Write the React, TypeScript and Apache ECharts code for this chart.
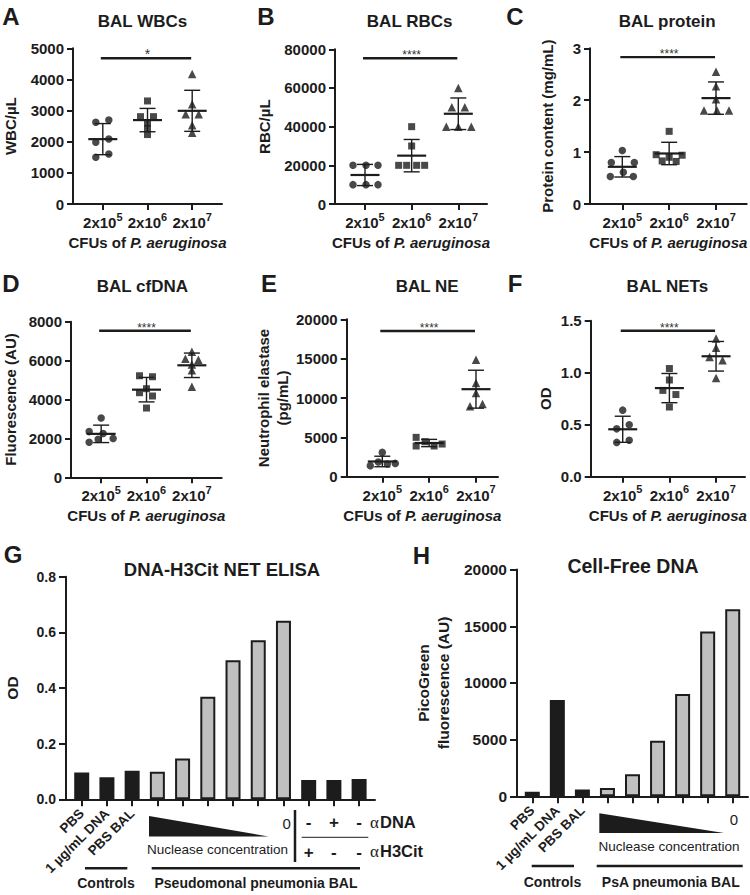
import React, { useEffect, useRef } from 'react';
import * as echarts from 'echarts';

// ---------------- data ----------------
const CFU_LABELS = ['2x10^5', '2x10^6', '2x10^7'];
const GROUP_SYMBOLS = ['circle', 'rect', 'triangle'];

const WBC_LOW = [2624, 2698, 1982, 2088, 1500, 1606];
const WBC_MID = [3309, 2805, 2805, 2600, 2420, 2230];
const WBC_HIGH = [4175, 3200, 2880, 2880, 2530, 2290];

const RBC_LOW = [20000, 20000, 20000, 10000, 10000, 10000];
const RBC_MID = [40000, 30000, 20000, 20000, 20000, 20000];
const RBC_HIGH = [60000, 50000, 50000, 40000, 40000, 40000];

const PROT_LOW = [1.03, 0.8, 0.8, 0.61, 0.53, 0.53];
const PROT_MID = [1.4, 0.95, 0.94, 0.9, 0.83, 0.82];
const PROT_HIGH = [2.55, 2.27, 2.02, 1.8, 1.8, 1.8];

const CFDNA_LOW = [3050, 2350, 2250, 2000, 1950, 1800];
const CFDNA_MID = [5220, 5170, 4555, 4350, 4180, 3560];
const CFDNA_HIGH = [6450, 6100, 6050, 5800, 5500, 4650];

const NE_LOW = [3090, 1400, 1870, 1615, 1690];
const NE_MID = [5000, 4450, 3900, 3900, 4150];
const NE_HIGH = [14870, 11910, 10640, 8940, 9240];

const NET_LOW = [0.64, 0.5, 0.46, 0.33, 0.35];
const NET_MID = [1.04, 0.93, 0.83, 0.79, 0.67];
const NET_HIGH = [1.33, 1.24, 1.15, 1.12, 0.95];

// horizontal spread of overlapping dots (px), as in the scatter-dot plot
const WBC_SPREAD = [[-7, 6, -7, 6, -7, 6], [0, -7, 6, 0, 0, 0], [0, 0, -6.5, 6.5, 0, 0]];
const RBC_SPREAD = [[-12, 1, 13, -12, 1, 13], [0, 0, -13, -5, 5, 13], [0, -6.5, 6.5, -12, 0, 13]];
const PROT_SPREAD = [[0, -11, 12, 1, -12, 11], [0, -13, 13, 0, -7, 7], [0, 0, 0, -12, 1, 13]];
const CFDNA_SPREAD = [[0, -12, 2, 12, -3, -12], [-7, 6, 0, -7, 6, 0], [0, -6.5, 6.5, 0, 0, 0]];
const NE_SPREAD = [[0, -12, -4, 5, 13], [-13, -4, -13, 5, 13], [0, 0, 0, -6, 6.5]];
const NET_SPREAD = [[0, 6.5, -6, -6, 6.5], [0, 0, -6.5, 6.5, 0], [0, 0, -6.5, 6.5, 0]];

const PANEL_TITLES = ['BAL WBCs', 'BAL RBCs', 'BAL protein', 'BAL cfDNA', 'BAL NE', 'BAL NETs'];
const PANEL_LETTERS = ['A', 'B', 'C', 'D', 'E', 'F'];
const PANEL_YNAMES = ['WBC/µL', 'RBC/µL', 'Protein content (mg/mL)', 'Fluorescence (AU)', 'Neutrophil elastase\n(pg/mL)', 'OD'];
const PANEL_YMAX = [5000, 80000, 3, 8000, 20000, 1.5];
const PANEL_YSTEP = [1000, 20000, 1, 2000, 5000, 0.5];
const PANEL_YDECIMALS = [0, 0, 0, 0, 0, 1];
const PANEL_SIG_Y = [4680, 75340, 2.83, 7534, 18514, 1.404];
const PANEL_SIG_TEXT = ['*', '****', '****', '****', '****', '****'];
const PANEL_VALUES = [
  [WBC_LOW, WBC_MID, WBC_HIGH],
  [RBC_LOW, RBC_MID, RBC_HIGH],
  [PROT_LOW, PROT_MID, PROT_HIGH],
  [CFDNA_LOW, CFDNA_MID, CFDNA_HIGH],
  [NE_LOW, NE_MID, NE_HIGH],
  [NET_LOW, NET_MID, NET_HIGH],
];
const PANEL_SPREAD = [WBC_SPREAD, RBC_SPREAD, PROT_SPREAD, CFDNA_SPREAD, NE_SPREAD, NET_SPREAD];

// G: DNA-H3Cit NET ELISA
const G_LABELS = ['PBS', '1 µg/mL DNA', 'PBS BAL'];
const G_OD = [0.096, 0.079, 0.103, 0.099, 0.147, 0.369, 0.5, 0.572, 0.642, 0.069, 0.069, 0.073];
const G_KIND = ['ctrl', 'ctrl', 'ctrl', 'bal', 'bal', 'bal', 'bal', 'bal', 'bal', 'ab', 'ab', 'ab'];
const ANTI_DNA = ['-', '+', '-'];
const ANTI_H3CIT = ['+', '-', '-'];
const G_YTICKS = [0, 0.2, 0.4, 0.6, 0.8];

// H: Cell-Free DNA
const H_LABELS = ['PBS', '1 µg/mL DNA', 'PBS BAL'];
const H_FLUOR = [410, 8500, 590, 740, 1950, 4890, 9020, 14530, 16500];
const H_KIND = ['ctrl', 'ctrl', 'ctrl', 'bal', 'bal', 'bal', 'bal', 'bal', 'bal'];
const H_YTICKS = [0, 5000, 10000, 15000, 20000];

// ---------------- layout / style ----------------
const FONT = '"Liberation Sans", Arial, Helvetica, sans-serif';
const SERIF = '"Liberation Serif", "DejaVu Serif", serif';
const INK = '#1c1c1c';
const GREY = '#c0c0c0';

const SCATTER_LAYOUT = [
  { left: 67, top: 48.3, width: 155, height: 155.7, xmin: -0.667, xmax: 2.667, nameGap: 53, titleY: 21, letterX: 11, letterY: 16 },
  { left: 335, top: 49.3, width: 152, height: 154.7, xmin: -0.643, xmax: 2.615, nameGap: 61, titleY: 21, letterX: 266, letterY: 16 },
  { left: 590, top: 48.3, width: 156.7, height: 155.7, xmin: -0.69, xmax: 2.655, nameGap: 33, titleY: 21, letterX: 515, letterY: 16 },
  { left: 66.7, top: 321.7, width: 155, height: 155.6, xmin: -0.665, xmax: 2.658, nameGap: 51, titleY: 286, letterX: 11, letterY: 283 },
  { left: 346.7, top: 319.3, width: 151.3, height: 157.4, xmin: -0.76, xmax: 2.47, nameGap: 53, titleY: 286, letterX: 269, letterY: 283 },
  { left: 590.7, top: 320.7, width: 154.3, height: 156, xmin: -0.686, xmax: 2.62, nameGap: 36, titleY: 286, letterX: 515, letterY: 283 },
];
const G_LAYOUT = { left: 66, top: 576.7, width: 309, height: 222.6, xmin: -0.623, xmax: 11.63 };
const H_LAYOUT = { left: 517, top: 569.6, width: 231, height: 226.7, xmin: -0.61, xmax: 8.61 };

const mean = (a: number[]) => a.reduce((s, v) => s + v, 0) / a.length;
const sd = (a: number[]) => {
  const m = mean(a);
  return Math.sqrt(a.reduce((s, v) => s + (v - m) * (v - m), 0) / (a.length - 1));
};

const axisLineStyle = { color: INK, width: 2 };
const boldText = { fontFamily: FONT, fontWeight: 'bold' as const, color: INK };

function cfuLabel(v: number) {
  const [base, exp] = CFU_LABELS[Math.round(v)].split('^');
  return `{b|${base}}{s|${exp}}`;
}

function xPos(L: any, i: number) {
  return L.left + ((i - L.xmin) * L.width) / (L.xmax - L.xmin);
}

function bf(size: number) {
  return `bold ${size}px ${FONT}`;
}

function buildOption() {
  const grid: any[] = [];
  const xAxis: any[] = [];
  const yAxis: any[] = [];
  const series: any[] = [];
  const graphic: any[] = [];

  const txt = (text: string, x: number, y: number, font: string, align = 'center', fill = INK) => ({
    type: 'text', x, y, silent: true, z: 10,
    style: { text, font, fill, textAlign: align, textVerticalAlign: 'middle' },
  });
  const ln = (x1: number, y1: number, x2: number, y2: number, w: number) => ({
    type: 'line', silent: true, z: 10, shape: { x1, y1, x2, y2 }, style: { stroke: INK, lineWidth: w },
  });

  // ---------- six scatter-dot panels ----------
  PANEL_VALUES.forEach((sets, p) => {
    const L = SCATTER_LAYOUT[p];
    grid.push({ left: L.left, top: L.top, width: L.width, height: L.height, containLabel: false });
    xAxis.push({
      type: 'value', gridIndex: p, min: L.xmin, max: L.xmax,
      axisLine: { show: true, onZero: false, lineStyle: axisLineStyle },
      axisTick: { show: true, customValues: [0, 1, 2], length: 6, lineStyle: axisLineStyle },
      axisLabel: {
        show: true, customValues: [0, 1, 2], margin: 7, formatter: (v: number) => cfuLabel(v),
        rich: {
          b: { ...boldText, fontSize: 15, lineHeight: 19, verticalAlign: 'bottom' },
          s: { ...boldText, fontSize: 11, lineHeight: 9, verticalAlign: 'top' },
        },
      },
      splitLine: { show: false },
      name: 'CFUs of {i|P. aeruginosa}', nameLocation: 'middle', nameGap: 31,
      nameTextStyle: { ...boldText, fontSize: 15, rich: { i: { ...boldText, fontSize: 15, fontStyle: 'italic' } } },
    });
    yAxis.push({
      type: 'value', gridIndex: p, min: 0, max: PANEL_YMAX[p], interval: PANEL_YSTEP[p],
      axisLine: { show: true, onZero: false, lineStyle: axisLineStyle },
      axisTick: { show: true, length: 6, lineStyle: axisLineStyle },
      axisLabel: { ...boldText, fontSize: 15, margin: 9, formatter: (v: number) => v.toFixed(PANEL_YDECIMALS[p]) },
      splitLine: { show: false },
      name: PANEL_YNAMES[p], nameLocation: 'middle', nameGap: L.nameGap,
      nameTextStyle: { ...boldText, fontSize: 15, lineHeight: 19 },
    });

    sets.forEach((vals, g) => {
      series.push({
        type: 'scatter', xAxisIndex: p, yAxisIndex: p, symbol: GROUP_SYMBOLS[g],
        symbolSize: g === 2 ? 8.5 : g === 1 ? 7 : 7.5, itemStyle: { color: INK }, z: 3, silent: true,
        data: vals.map((v, k) => ({ value: [g, v], symbolOffset: [PANEL_SPREAD[p][g][k], 0] })),
      });
    });

    // mean +/- SD
    series.push({
      type: 'custom', xAxisIndex: p, yAxisIndex: p, z: 5, silent: true,
      dimensions: ['x', 'mean', 'sd'], encode: { x: 0, y: 1 },
      data: sets.map((vals, g) => [g, mean(vals), sd(vals)]),
      renderItem: (_params: any, api: any) => {
        const x = api.value(0), m = api.value(1), s = api.value(2);
        const c = api.coord([x, m]);
        const hi = api.coord([x, m + s]);
        const lo = api.coord([x, m - s]);
        const st = { stroke: INK, lineWidth: 1.4 };
        return {
          type: 'group',
          children: [
            { type: 'line', shape: { x1: hi[0], y1: hi[1], x2: lo[0], y2: lo[1] }, style: st },
            { type: 'line', shape: { x1: hi[0] - 8, y1: hi[1], x2: hi[0] + 8, y2: hi[1] }, style: st },
            { type: 'line', shape: { x1: lo[0] - 8, y1: lo[1], x2: lo[0] + 8, y2: lo[1] }, style: st },
            { type: 'line', shape: { x1: c[0] - 14.5, y1: c[1], x2: c[0] + 14.5, y2: c[1] }, style: { stroke: INK, lineWidth: 2.2 } },
          ],
        };
      },
    });

    // significance bar
    const stars = PANEL_SIG_TEXT[p];
    series.push({
      type: 'custom', xAxisIndex: p, yAxisIndex: p, z: 5, silent: true,
      dimensions: ['from', 'to', 'y'], encode: { x: [0, 1], y: 2 },
      data: [[0, 2, PANEL_SIG_Y[p]]],
      renderItem: (_params: any, api: any) => {
        const a = api.coord([api.value(0), api.value(2)]);
        const b = api.coord([api.value(1), api.value(2)]);
        return {
          type: 'group',
          children: [
            { type: 'line', shape: { x1: a[0] - 2, y1: a[1], x2: b[0] - 1, y2: b[1] }, style: { stroke: INK, lineWidth: 2.4 } },
            {
              type: 'text',
              style: {
                text: stars, x: (a[0] + b[0]) / 2, y: a[1] + 3, textAlign: 'center', textVerticalAlign: 'bottom',
                font: `${stars.length === 1 ? 14 : 12}px ${FONT}`, fill: '#333',
              },
            },
          ],
        };
      },
    });

    graphic.push(txt(PANEL_LETTERS[p], L.letterX, L.letterY, bf(24)));
    graphic.push(txt(PANEL_TITLES[p], xPos(L, 1) - 2, L.titleY, bf(17)));
  });

  // ---------- bar panels G and H ----------
  const barPanel = (idx: number, L: any, values: number[], kinds: string[], labels: string[], ymax: number, ystep: number,
    decimals: number, yName: string, nameGap: number, tickFont: number) => {
    grid.push({ left: L.left, top: L.top, width: L.width, height: L.height });
    xAxis.push({
      type: 'value', gridIndex: idx, min: L.xmin, max: L.xmax,
      axisLine: { show: true, onZero: false, lineStyle: axisLineStyle },
      axisTick: { show: true, customValues: values.map((_v, i) => i), length: 7, lineStyle: axisLineStyle },
      axisLabel: {
        show: true, customValues: labels.map((_l, i) => i), rotate: 45, margin: 12,
        formatter: (v: number) => labels[Math.round(v)] ?? '',
        ...boldText, fontSize: 13.5,
      },
      splitLine: { show: false },
    });
    yAxis.push({
      type: 'value', gridIndex: idx, min: 0, max: ymax, interval: ystep,
      axisLine: { show: true, onZero: false, lineStyle: axisLineStyle },
      axisTick: { show: true, length: 7, lineStyle: axisLineStyle },
      axisLabel: { ...boldText, fontSize: tickFont, margin: 10, formatter: (v: number) => v.toFixed(decimals) },
      splitLine: { show: false },
      name: yName, nameLocation: 'middle', nameGap,
      nameTextStyle: { ...boldText, fontSize: 15.5, lineHeight: 20 },
    });
    series.push({
      type: 'bar', xAxisIndex: idx, yAxisIndex: idx, barWidth: 15, silent: true, z: 2,
      data: values.map((v, i) => ({
        value: [i, v],
        itemStyle: { color: kinds[i] === 'bal' ? GREY : INK, borderColor: INK, borderWidth: 2 },
      })),
    });
  };

  barPanel(6, G_LAYOUT, G_OD, G_KIND, G_LABELS, G_YTICKS[G_YTICKS.length - 1], G_YTICKS[1], 1, 'OD', 44, 14);
  barPanel(7, H_LAYOUT, H_FLUOR, H_KIND, H_LABELS, H_YTICKS[H_YTICKS.length - 1], H_YTICKS[1], 0,
    'PicoGreen\nfluorescence (AU)', 64, 15.5);

  // G annotations
  graphic.push(txt('G', 13, 554, bf(24)));
  graphic.push(txt('DNA-H3Cit NET ELISA', 222, 569, bf(18.5)));
  graphic.push({
    type: 'polygon', silent: true, z: 10,
    shape: { points: [[149, 816], [149, 836.5], [268.5, 836.5]] }, style: { fill: INK },
  });
  graphic.push(txt('0', 286.7, 823, `15px ${FONT}`));
  graphic.push(txt('Nuclease concentration', 217.5, 849, `13.5px ${FONT}`));
  graphic.push(ln(295, 810, 295, 862, 2.5));
  graphic.push(ln(301.7, 837.3, 368.3, 837.3, 1));
  ANTI_DNA.forEach((s, k) => graphic.push(txt(s, xPos(G_LAYOUT, 9 + k), 822, bf(17))));
  ANTI_H3CIT.forEach((s, k) => graphic.push(txt(s, xPos(G_LAYOUT, 9 + k), 852, bf(17))));
  graphic.push(txt('α', 370, 822, `17px ${SERIF}`, 'left'));
  graphic.push(txt('DNA', 380, 822, bf(16.5), 'left'));
  graphic.push(txt('α', 370, 851, `17px ${SERIF}`, 'left'));
  graphic.push(txt('H3Cit', 380, 851, bf(16.5), 'left'));
  graphic.push(ln(85, 868.3, 127.3, 868.3, 2.5));
  graphic.push(ln(151.7, 868.3, 360, 868.3, 2.5));
  graphic.push(txt('Controls', 106, 883, bf(14)));
  graphic.push(txt('Pseudomonal pneumonia BAL', 256, 883, bf(14)));

  // H annotations
  graphic.push(txt('H', 421.5, 555, bf(24)));
  graphic.push(txt('Cell-Free DNA', 633, 566, bf(19.5)));
  graphic.push({
    type: 'polygon', silent: true, z: 10,
    shape: { points: [[599.3, 813.3], [599.3, 833], [724, 833]] }, style: { fill: INK },
  });
  graphic.push(txt('0', 734, 819.5, `15px ${FONT}`));
  graphic.push(txt('Nuclease concentration', 669, 846.7, `13.5px ${FONT}`));
  graphic.push(ln(531.7, 866, 574, 866, 2.5));
  graphic.push(ln(596.7, 866, 742.7, 866, 2.5));
  graphic.push(txt('Controls', 552.5, 882, bf(14)));
  graphic.push(txt('PsA pneumonia BAL', 670.8, 882, bf(14)));

  return {
    animation: false,
    backgroundColor: '#ffffff',
    textStyle: { fontFamily: FONT },
    grid, xAxis, yAxis, series, graphic,
  };
}

export default function App() {
  const ref = useRef<HTMLDivElement>(null);
  useEffect(() => {
    if (!ref.current) return;
    const chart = echarts.init(ref.current, undefined, { renderer: 'svg' });
    chart.setOption(buildOption() as any);
    return () => chart.dispose();
  }, []);
  return (
    <div
      ref={ref}
      style={{ position: 'absolute', left: 0, top: 0, width: 750, height: 895, background: '#fff' }}
    />
  );
}
